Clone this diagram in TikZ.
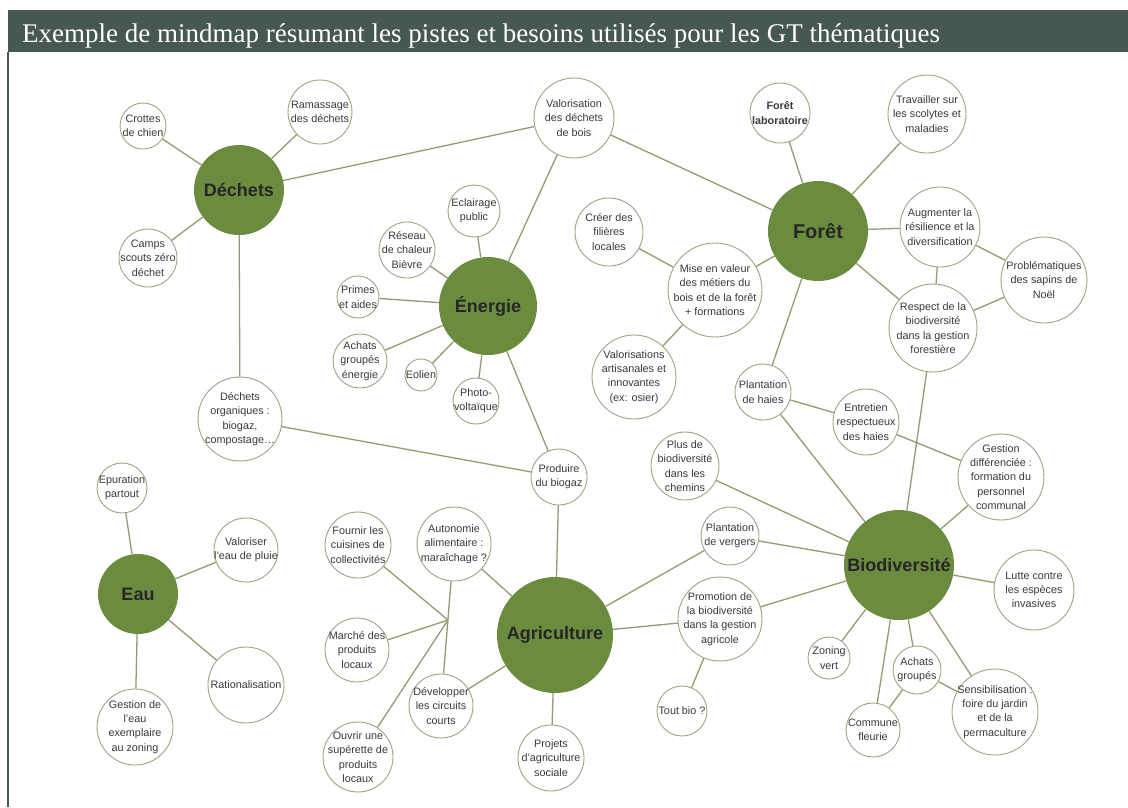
\documentclass[tikz,border=0pt]{standalone}
\usepackage{fontspec}
\setmainfont{Liberation Sans}
\newfontfamily\titlefont{Liberation Serif}
\definecolor{hdr}{HTML}{465850}
\definecolor{mgreen}{HTML}{6B8C3F}
\definecolor{lcol}{HTML}{8E9D72}
\definecolor{cborder}{HTML}{9AA585}
\definecolor{tgray}{HTML}{3A3A3A}
\begin{document}
\begin{tikzpicture}[x=1pt,y=-1pt,
  mainnode/.style={circle, fill=mgreen, draw=none, inner sep=0pt, minimum size=#1, font=\bfseries\fontsize{18}{20}\selectfont, text=black!85},
  sat/.style={circle, draw=cborder, line width=0.9pt, fill=white, inner sep=0pt, minimum size=#1},
  txt/.style={align=center, font=\fontsize{10.8}{14.3}\selectfont, text=tgray, inner sep=0pt},
  link/.style={draw=lcol, line width=1.3pt}]
\useasboundingbox (0,0) rectangle (1128,807);
% header
\fill[hdr] (8,10) rectangle (1128,52);
\draw[hdr, line width=2pt] (8,52) -- (8,807);
\node[anchor=base west, text=white, inner sep=0pt, font=\titlefont\fontsize{27}{31}\selectfont] (title) at (22,42) {Exemple de mindmap résumant les pistes et besoins utilisés pour les GT thématiques};

% main nodes
\node[mainnode=90pt] (dech) at (239,190) {Déchets};
\node[mainnode=98pt] (ener) at (488,306) {Énergie};
\node[mainnode=100pt, font=\bfseries\fontsize{20}{22}\selectfont] (foret) at (818,231) {Forêt};
\node[mainnode=110pt] (bio) at (899,565) {Biodiversité};
\node[mainnode=116pt] (agri) at (555,635) {Agriculture};
\node[mainnode=80pt] (eau) at (138,594) {Eau};

% satellites (circles)
\node[sat=46pt] (crot) at (143,126) {};
\node[sat=64pt] (ram) at (320,112) {};
\node[sat=58pt] (camps) at (148,258) {};
\node[sat=80pt] (valo) at (574,118) {};
\node[sat=52pt] (ecl) at (474,211) {};
\node[sat=56pt] (res) at (407,250) {};
\node[sat=42pt] (prim) at (358,297) {};
\node[sat=54pt] (achE) at (360,361) {};
\node[sat=32pt] (eol) at (421,375) {};
\node[sat=46pt] (photo) at (476,401) {};
\node[sat=84pt] (dorg) at (240,419) {};
\node[sat=60pt] (labo) at (780,113) {};
\node[sat=78pt] (trav) at (927,114) {};
\node[sat=80pt] (aug) at (940,227) {};
\node[sat=86pt] (prob) at (1044,280) {};
\node[sat=88pt] (resp) at (933,328) {};
\node[sat=68pt] (creer) at (609,232) {};
\node[sat=94pt] (mise) at (715,290) {};
\node[sat=84pt] (valart) at (634,377) {};
\node[sat=56pt] (haies) at (763,392) {};
\node[sat=66pt] (entr) at (866,422) {};
\node[sat=86pt] (gest) at (1001,477) {};
\node[sat=68pt] (plus) at (685,466) {};
\node[sat=58pt] (verg) at (730,536) {};
\node[sat=80pt] (lutte) at (1034,590) {};
\node[sat=84pt] (promo) at (720,619) {};
\node[sat=50pt] (tout) at (682,711) {};
\node[sat=42pt] (zon) at (829,658) {};
\node[sat=48pt] (achB) at (917,670) {};
\node[sat=54pt] (comm) at (873,730) {};
\node[sat=86pt] (sens) at (995,712) {};
\node[sat=56pt] (biog) at (559,477) {};
\node[sat=50pt] (epu) at (122,488) {};
\node[sat=64pt] (valeau) at (246,550) {};
\node[sat=76pt] (rat) at (246,685) {};
\node[sat=76pt] (gesteau) at (135,727) {};
\node[sat=66pt] (fourn) at (358,545) {};
\node[sat=74pt] (auto) at (454,544) {};
\node[sat=64pt] (marche) at (357,650) {};
\node[sat=64pt] (dev) at (441,706) {};
\node[sat=70pt] (ouvr) at (358,757) {};
\node[sat=66pt] (proj) at (551,758) {};
\coordinate (J) at (448,620);

% texts
\node[txt] (crot-t) at (crot) {Crottes\\de chien};
\node[txt] (ram-t) at (ram) {Ramassage\\des déchets};
\node[txt] (camps-t) at (camps) {Camps\\scouts zéro\\déchet};
\node[txt] (valo-t) at (valo) {Valorisation\\des déchets\\de bois};
\node[txt] (ecl-t) at (ecl) {Eclairage\\public};
\node[txt] (res-t) at (res) {Réseau\\de chaleur\\Bièvre};
\node[txt] (prim-t) at (prim) {Primes\\et aides};
\node[txt] (achE-t) at (achE) {Achats\\groupés\\énergie};
\node[txt] (eol-t) at (eol) {Eolien};
\node[txt] (photo-t) at (photo) {Photo-\\voltaïque};
\node[txt] (dorg-t) at (dorg) {Déchets\\organiques :\\biogaz,\\compostage…};
\node[txt, font=\bfseries\fontsize{10.8}{14.3}\selectfont] (labo-t) at (labo) {Forêt\\laboratoire};
\node[txt] (trav-t) at (trav) {Travailler sur\\les scolytes et\\maladies};
\node[txt] (aug-t) at (aug) {Augmenter la\\résilience et la\\diversification};
\node[txt] (prob-t) at (prob) {Problématiques\\des sapins de\\Noël};
\node[txt] (resp-t) at (resp) {Respect de la\\biodiversité\\dans la gestion\\forestière};
\node[txt] (creer-t) at (creer) {Créer des\\filières\\locales};
\node[txt] (mise-t) at (mise) {Mise en valeur\\des métiers du\\bois et de la forêt\\+ formations};
\node[txt] (valart-t) at (valart) {Valorisations\\artisanales et\\innovantes\\(ex: osier)};
\node[txt] (haies-t) at (haies) {Plantation\\de haies};
\node[txt] (entr-t) at (entr) {Entretien\\respectueux\\des haies};
\node[txt] (gest-t) at (gest) {Gestion\\différenciée :\\formation du\\personnel\\communal};
\node[txt] (plus-t) at (plus) {Plus de\\biodiversité\\dans les\\chemins};
\node[txt] (verg-t) at (verg) {Plantation\\de vergers};
\node[txt] (lutte-t) at (lutte) {Lutte contre\\les espèces\\invasives};
\node[txt] (promo-t) at (promo) {Promotion de\\la biodiversité\\dans la gestion\\agricole};
\node[txt] (tout-t) at (tout) {Tout bio ?};
\node[txt] (zon-t) at (zon) {Zoning\\vert};
\node[txt] (achB-t) at (achB) {Achats\\groupés};
\node[txt] (comm-t) at (comm) {Commune\\fleurie};
\node[txt] (sens-t) at (sens) {Sensibilisation :\\foire du jardin\\et de la\\permaculture};
\node[txt] (biog-t) at (biog) {Produire\\du biogaz};
\node[txt] (epu-t) at (epu) {Epuration\\partout};
\node[txt] (valeau-t) at (valeau) {Valoriser\\l'eau de pluie};
\node[txt] (rat-t) at (rat) {Rationalisation};
\node[txt] (gesteau-t) at (gesteau) {Gestion de\\l'eau\\exemplaire\\au zoning};
\node[txt] (fourn-t) at (fourn) {Fournir les\\cuisines de\\collectivités};
\node[txt] (auto-t) at (auto) {Autonomie\\alimentaire :\\maraîchage ?};
\node[txt] (marche-t) at (marche) {Marché des\\produits\\locaux};
\node[txt] (dev-t) at (dev) {Développer\\les circuits\\courts};
\node[txt] (ouvr-t) at (ouvr) {Ouvrir une\\supérette de\\produits\\locaux};
\node[txt] (proj-t) at (proj) {Projets\\d'agriculture\\sociale};

% links
\path[link] (dech) -- (crot);
\path[link] (dech) -- (ram);
\path[link] (dech) -- (camps);
\path[link] (dech) -- (valo);
\path[link] (dech) -- (dorg);
\path[link] (valo) -- (ener);
\path[link] (valo) -- (foret);
\path[link] (ener) -- (ecl);
\path[link] (ener) -- (res);
\path[link] (ener) -- (prim);
\path[link] (ener) -- (achE);
\path[link] (ener) -- (eol);
\path[link] (ener) -- (photo);
\path[link] (ener) -- (biog);
\path[link] (dorg) -- (biog);
\path[link] (biog) -- (agri);
\path[link] (foret) -- (labo);
\path[link] (foret) -- (trav);
\path[link] (foret) -- (aug);
\path[link] (foret) -- (resp);
\path[link] (foret) -- (mise);
\path[link] (foret) -- (haies);
\path[link] (aug) -- (resp);
\path[link] (aug) -- (prob);
\path[link] (resp) -- (prob);
\path[link] (resp) -- (bio);
\path[link] (mise) -- (creer);
\path[link] (mise) -- (valart);
\path[link] (haies) -- (entr);
\path[link] (haies) -- (bio);
\path[link] (entr) -- (gest);
\path[link] (gest) -- (bio);
\path[link] (plus) -- (bio);
\path[link] (verg) -- (bio);
\path[link] (verg) -- (agri);
\path[link] (promo) -- (bio);
\path[link] (promo) -- (agri);
\path[link] (promo) -- (tout);
\path[link] (bio) -- (lutte);
\path[link] (bio) -- (zon);
\path[link] (bio) -- (comm);
\path[link] (bio) -- (achB);
\path[link] (bio) -- (sens);
\path[link] (achB) -- (comm);
\path[link] (achB) -- (sens);
\path[link] (agri) -- (proj);
\path[link] (agri) -- (auto);
\path[link] (agri) -- (dev);
\path[link] (auto) -- (dev);
\path[link] (fourn) -- (J);
\path[link] (marche) -- (J);
\path[link] (ouvr) -- (J);
\path[link] (eau) -- (epu);
\path[link] (eau) -- (valeau);
\path[link] (eau) -- (rat);
\path[link] (eau) -- (gesteau);
\end{tikzpicture}
\end{document}
